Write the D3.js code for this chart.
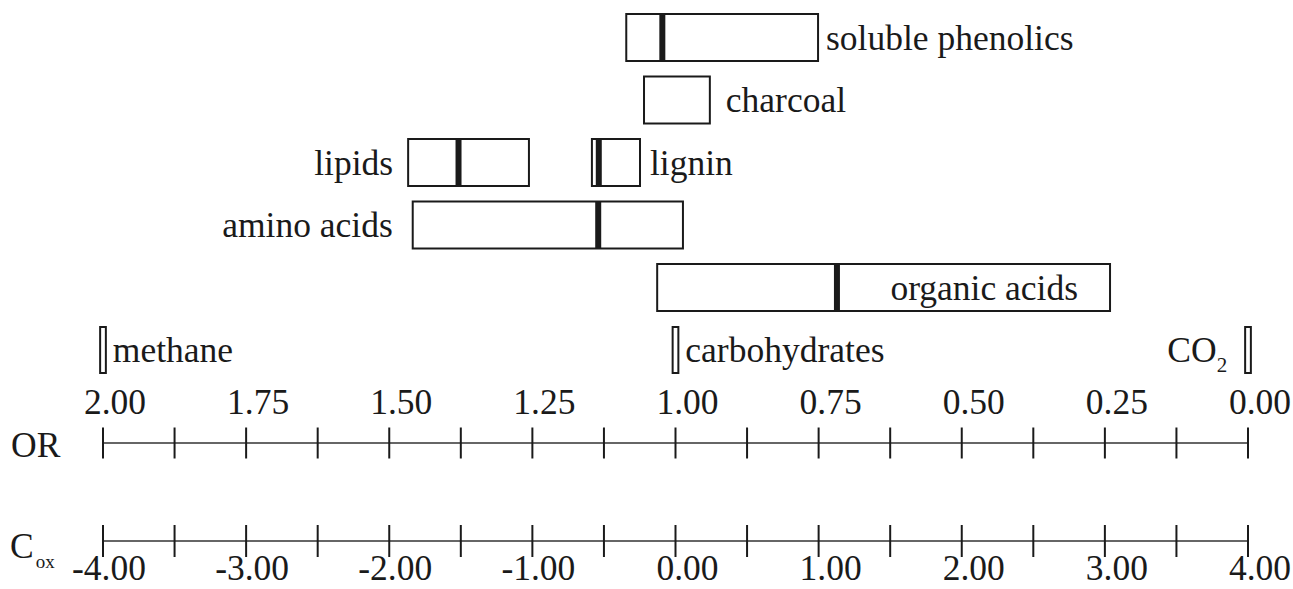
<!DOCTYPE html>
<html>
<head>
<meta charset="utf-8">
<script src="https://cdn.jsdelivr.net/npm/d3@7"></script>
<style>
  body { margin: 0; background: #fff; }
  text { font-family: "Liberation Serif", "Times New Roman", serif; fill: #1a1a1a; }
</style>
</head>
<body>
<script>
// compounds (boxes), values read in OR units
const compounds = ["soluble phenolics", "charcoal", "lipids", "lignin", "amino acids", "organic acids"];
const compoundRow = [0, 1, 2, 2, 3, 4];
const orHigh = [1.086, 1.055, 1.467, 1.146, 1.459, 1.032];
const orLow = [0.751, 0.940, 1.256, 1.062, 0.987, 0.241];
const orMedian = [1.023, null, 1.379, 1.134, 1.135, 0.718];

// single compounds
const refNames = ["methane", "carbohydrates", "CO2"];
const refOR = [2.0, 1.0, 0.0];

// axes
const orTicks = d3.range(0, 17).map(i => 2 - i * 0.125);
const orLabels = ["2.00", "1.75", "1.50", "1.25", "1.00", "0.75", "0.50", "0.25", "0.00"];
const coxTicks = d3.range(0, 17).map(i => -4 + i * 0.5);
const coxLabels = ["-4.00", "-3.00", "-2.00", "-1.00", "0.00", "1.00", "2.00", "3.00", "4.00"];

const width = 1293, height = 589;
const fs = 35.5;

const svg = d3.select("body").append("svg")
    .attr("width", width)
    .attr("height", height);

let x = d3.scaleLinear().domain([2, 0]).range([103, 1248]);
let xc = d3.scaleLinear().domain([-4, 4]).range([103, 1248]);
let y = d3.scalePoint().domain(d3.range(6)).range([37.5, 350]);
const boxH = 47;

// label placement: side and gap from the box
const place = {
  "soluble phenolics": ["right", 8],
  "charcoal": ["right", 16],
  "lipids": ["left", 15],
  "lignin": ["right", 10],
  "amino acids": ["left", 20],
  "organic acids": ["inside", 32]
};

compounds.forEach(function(name, i) {
  let cy = y(compoundRow[i]);
  let x0 = x(orHigh[i]), x1 = x(orLow[i]);
  svg.append("rect")
     .attr("x", x0).attr("y", cy - boxH / 2)
     .attr("width", x1 - x0).attr("height", boxH)
     .attr("fill", "#fff").attr("stroke", "#1a1a1a").attr("stroke-width", 2);
  if (orMedian[i] != null) {
    svg.append("line")
       .attr("x1", x(orMedian[i])).attr("x2", x(orMedian[i]))
       .attr("y1", cy - boxH / 2).attr("y2", cy + boxH / 2)
       .attr("stroke", "#1a1a1a").attr("stroke-width", 6);
  }
  let p = place[name];
  let t = svg.append("text")
     .attr("y", cy + 12)
     .attr("font-size", fs)
     .text(name);
  if (p[0] == "right") t.attr("x", x1 + p[1]);
  else if (p[0] == "left") t.attr("x", x0 - p[1]).attr("text-anchor", "end");
  else t.attr("x", x1 - p[1]).attr("text-anchor", "end");
});

// thin boxes for single compounds
refNames.forEach(function(name, i) {
  let cy = y(5);
  let xa = x(refOR[i] + 0.005), xb = x(refOR[i] - 0.005);
  svg.append("rect")
     .attr("x", xa).attr("y", cy - 23)
     .attr("width", xb - xa).attr("height", 46)
     .attr("fill", "#fff").attr("stroke", "#1a1a1a").attr("stroke-width", 2);
  if (name == "CO2") {
    let t = svg.append("text")
       .attr("x", xa - 18).attr("y", cy + 12)
       .attr("text-anchor", "end")
       .attr("font-size", fs);
    t.append("tspan").text("CO");
    t.append("tspan").attr("font-size", 21).attr("dy", 10).text("2");
  } else {
    svg.append("text")
       .attr("x", xb + 7).attr("y", cy + 12)
       .attr("font-size", fs)
       .text(name);
  }
});

// OR axis
const orY = 443;
svg.append("line")
   .attr("x1", x(2)).attr("x2", x(0))
   .attr("y1", orY).attr("y2", orY)
   .attr("stroke", "#333").attr("stroke-width", 1.6);
svg.selectAll(".ortick")
   .data(orTicks)
   .enter().append("line")
   .attr("class", "ortick")
   .attr("x1", d => x(d)).attr("x2", d => x(d))
   .attr("y1", orY - 15.5).attr("y2", orY + 15.5)
   .attr("stroke", "#1a1a1a").attr("stroke-width", 2);
svg.selectAll(".orlab")
   .data(orLabels)
   .enter().append("text")
   .attr("class", "orlab")
   .attr("x", d => x(+d) + 12)
   .attr("y", 414)
   .attr("text-anchor", "middle")
   .attr("font-size", fs)
   .text(d => d);
svg.append("text")
   .attr("x", 11).attr("y", 457)
   .attr("font-size", fs)
   .text("OR");

// Cox axis
const coxY = 541;
svg.append("line")
   .attr("x1", xc(-4)).attr("x2", xc(4))
   .attr("y1", coxY).attr("y2", coxY)
   .attr("stroke", "#333").attr("stroke-width", 1.6);
svg.selectAll(".coxtick")
   .data(coxTicks)
   .enter().append("line")
   .attr("class", "coxtick")
   .attr("x1", d => xc(d)).attr("x2", d => xc(d))
   .attr("y1", coxY - 16).attr("y2", coxY + 16)
   .attr("stroke", "#1a1a1a").attr("stroke-width", 2);
svg.selectAll(".coxlab")
   .data(coxLabels)
   .enter().append("text")
   .attr("class", "coxlab")
   .attr("x", d => xc(+d) + (+d < 0 ? 6 : 12))
   .attr("y", 580)
   .attr("text-anchor", "middle")
   .attr("font-size", fs)
   .text(d => d);
let cl = svg.append("text")
   .attr("x", 10).attr("y", 558)
   .attr("font-size", fs);
cl.append("tspan").text("C");
cl.append("tspan").attr("font-size", 19).attr("dy", 10).attr("dx", 2).text("ox");
</script>
</body>
</html>
